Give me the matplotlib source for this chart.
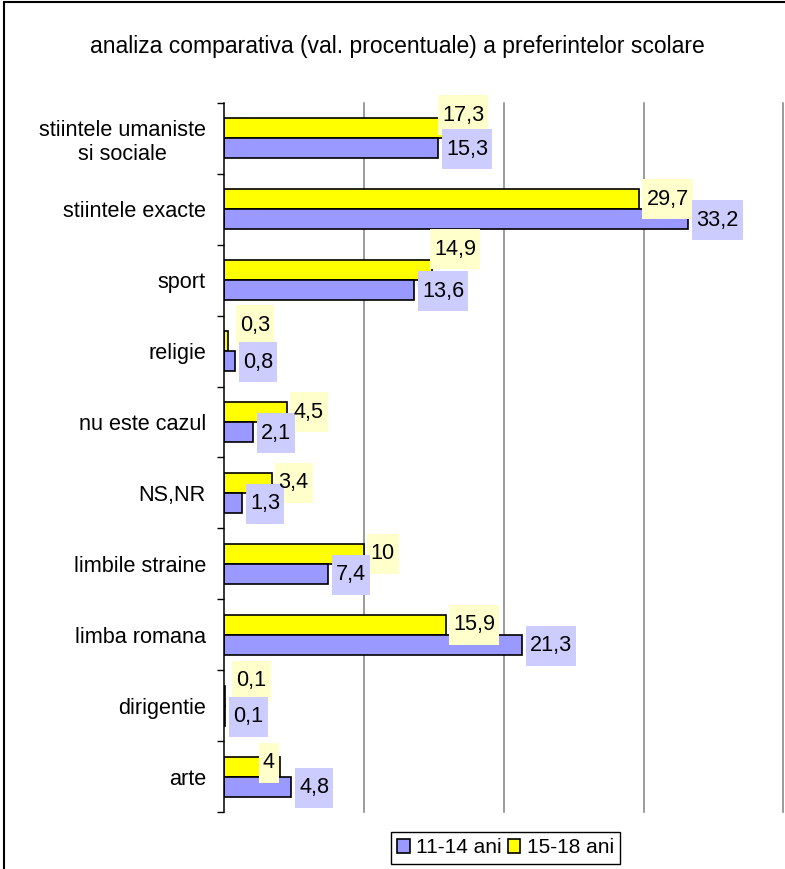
import matplotlib.pyplot as plt
from matplotlib.patches import Rectangle
from matplotlib.transforms import IdentityTransform
import numpy as np

categorii = ["stiintele umaniste\nsi sociale", "stiintele exacte", "sport", "religie",
             "nu este cazul", "NS,NR", "limbile straine", "limba romana",
             "dirigentie", "arte"]
ani_11_14 = [15.3, 33.2, 13.6, 0.8, 2.1, 1.3, 7.4, 21.3, 0.1, 4.8]
ani_15_18 = [17.3, 29.7, 14.9, 0.3, 4.5, 3.4, 10, 15.9, 0.1, 4]

# etichete mutate manual (pixeli: dx, dy in jos)
mutari = {("g", 0): (-28, -13), ("g", 2): (-2, -21), ("g", 3): (8, -16),
          ("g", 8): (7, -15), ("g", 9): (-21, -4)}

plt.rcParams["font.family"] = ["Liberation Sans", "DejaVu Sans"]
fs = 15.6


def fmt(v):
    return f"{v:g}".replace(".", ",")


fig = plt.figure(figsize=(7.85, 8.69), dpi=100)
ax = fig.add_axes([224 / 785, 1 - 812 / 869, 559.5 / 785, 709 / 869])

y = np.arange(len(categorii))
h = 0.282
ax.barh(y - h / 2, ani_15_18, height=h, color="#FFFF00", edgecolor="black",
        linewidth=1.2, label="15-18 ani", zorder=2)
ax.barh(y + h / 2, ani_11_14, height=h, color="#9999FF", edgecolor="black",
        linewidth=1.2, label="11-14 ani", zorder=2)
ax.set_ylim(len(categorii) - 0.5, -0.5)
ax.set_xlim(0, 40)

ax.set_yticks(y)
ax.set_yticklabels(categorii, fontsize=fs)
for lbl in ax.get_yticklabels():
    lbl.set_multialignment("center")
ax.tick_params(axis="y", which="major", length=0, pad=13)
ax.set_yticks(np.arange(-0.5, len(categorii)), minor=True)
ax.tick_params(axis="y", which="minor", length=5, width=1, direction="out")

ax.set_xticks([10, 20, 30, 40])
ax.tick_params(axis="x", length=0, labelbottom=False)
ax.grid(axis="x", color="#808080", linewidth=1.1)
ax.set_axisbelow(True)
for gl in ax.get_xgridlines():
    gl.set_clip_on(False)

for s in ["top", "right", "bottom"]:
    ax.spines[s].set_visible(False)
ax.spines["left"].set_linewidth(1.1)

# etichete de valori
texte = []
for i in range(len(categorii)):
    for serie, vals, yy, dx, dy, fc in [("g", ani_15_18, i - h / 2, 3, 0, "#FFFFCC"),
                                         ("a", ani_11_14, i + h / 2, 4, 1, "#CCCCFF")]:
        if (serie, i) in mutari:
            dx, dy = mutari[(serie, i)]
        t = ax.annotate(fmt(vals[i]), xy=(vals[i], yy), xytext=(dx + 4, -dy),
                        textcoords="offset pixels", ha="left", va="center",
                        fontsize=fs, zorder=5)
        texte.append((t, fc))

fig.canvas.draw()
r = fig.canvas.get_renderer()
for t, fc in texte:
    bb = t.get_window_extent(r)
    yc = (bb.y0 + bb.y1) / 2
    ax.add_patch(Rectangle((bb.x0 - 4, yc - 20), bb.width + 8, 40,
                           transform=IdentityTransform(), facecolor=fc,
                           edgecolor="none", zorder=4, clip_on=False))

fig.text(397 / 785, 1 - 47 / 869,
         "analiza comparativa (val. procentuale) a preferintelor scolare",
         ha="center", va="center", fontsize=16.5)

hs, ls = ax.get_legend_handles_labels()
leg = fig.legend(hs[::-1], ls[::-1], loc="upper left",
                 bbox_to_anchor=(391 / 785, 1 - 832 / 869), ncol=2,
                 fontsize=15, frameon=True, fancybox=False, framealpha=1,
                 edgecolor="black", borderaxespad=0, handlelength=0.6,
                 handleheight=0.6, handletextpad=0.3, columnspacing=0.3,
                 borderpad=0.3)
leg.get_frame().set_linewidth(1)

fig.add_artist(Rectangle((4 / 785, -0.1), 1.0, 1.1 - 2 / 869,
                         transform=fig.transFigure, fill=False,
                         linewidth=1.5, edgecolor="black"))

fig.savefig("out.png", dpi=100)
